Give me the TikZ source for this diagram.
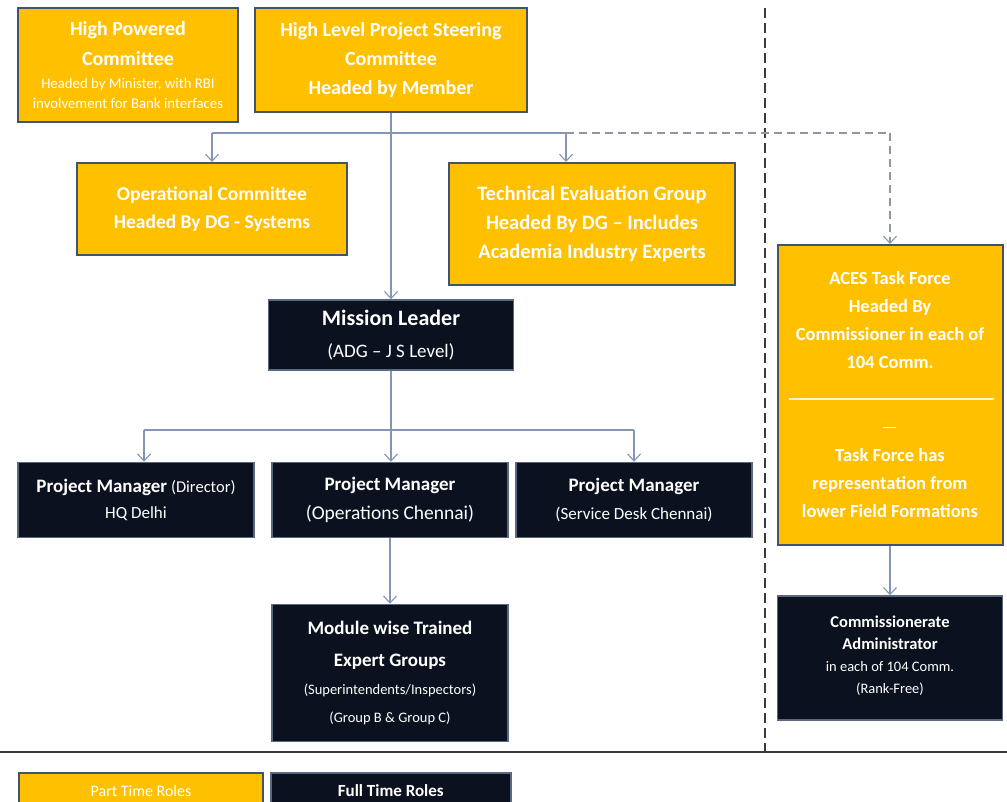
\documentclass[tikz,border=0pt]{standalone}
\usepackage{fontspec}
\setmainfont{Carlito}
\usetikzlibrary{arrows.meta,calc}
\definecolor{gold}{HTML}{FFC000}
\definecolor{boxedge}{HTML}{44536C}
\definecolor{navy}{HTML}{0B111E}
\definecolor{dkedge}{HTML}{5A6882}
\definecolor{link}{HTML}{8496B4}
\definecolor{dashc}{HTML}{8F95A3}
\definecolor{sepc}{HTML}{3A3A3A}
\begin{document}
\begin{tikzpicture}[x=1pt,y=-1pt,
  yel/.style={draw=boxedge,line width=2pt,fill=gold,text=white,align=flush center,inner sep=0pt,
    font=\bfseries\fontsize{19.5}{28.5}\selectfont},
  dk/.style={draw=dkedge,line width=1.5pt,fill=navy,text=white,align=flush center,inner sep=0pt},
  conn/.style={draw=link,line width=1.2pt},
  arr/.style={conn,-{Straight Barb[length=7pt,width=13pt,line width=1.1pt]}},
  dconn/.style={draw=dashc,line width=1.3pt,dash pattern=on 8pt off 5pt},
  darr/.style={dconn,-{Straight Barb[length=7pt,width=13pt,line width=1.1pt]}},
]
\useasboundingbox (0,0) rectangle (1007,802);
\fill[white] (0,0) rectangle (1007,802);

% separators
\draw[sepc,line width=1.5pt,dash pattern=on 10pt off 5pt] (765,8) -- (765,752);
\draw[sepc,line width=2.5pt] (0,752) -- (1007,752);

% yellow boxes
\node[yel,minimum width=220pt,minimum height=114pt,text width=216pt,font=\bfseries\fontsize{20}{30}\selectfont] (hpc) at (128,65)
  {High Powered\\Committee\par\vspace{3pt}
   {\mdseries\fontsize{14.8}{20}\selectfont Headed by Minister, with RBI\\involvement for Bank interfaces\par}};
\node[yel,minimum width=272pt,minimum height=104pt,text width=266pt,font=\bfseries\fontsize{20}{29}\selectfont] (hlpsc) at (391,60)
  {High Level Project Steering\\Committee\\Headed by Member};
\node[yel,minimum width=270pt,minimum height=92pt,text width=264pt] (op) at (212,209)
  {Operational Committee\\Headed By DG - Systems};
\node[yel,minimum width=286pt,minimum height=122pt,text width=280pt,font=\bfseries\fontsize{20.5}{29}\selectfont] (teg) at (592,224)
  {Technical Evaluation Group\\Headed By DG – Includes\\Academia Industry Experts};
\node[yel,minimum width=225pt,minimum height=300pt,text width=219pt,font=\bfseries\fontsize{18.5}{28}\selectfont] (aces) at (890,395)
  {ACES Task Force\\Headed By\\Commissioner in each of\\104 Comm.\par\vspace{65pt}
   Task Force has\\representation from\\lower Field Formations};
\draw[white!85!gold,line width=1.3pt] ($(aces.north west)+(12,155)$) -- ($(aces.north east)+(-10,155)$);
\draw[white!85!gold,line width=1pt] ($(aces.north)+(-7,183)$) -- ($(aces.north)+(6,183)$);

% dark boxes
\node[dk,minimum width=245pt,minimum height=70pt,text width=240pt] (ml) at (391,335)
  {{\bfseries\fontsize{22}{26}\selectfont Mission Leader\par}\vspace{8pt}
   {\fontsize{19}{24}\selectfont (ADG – J S Level)\par}};
\node[dk,minimum width=236pt,minimum height=75pt,text width=232pt] (pm1) at (136,500)
  {\fontsize{17}{26}\selectfont{\bfseries\fontsize{19}{26}\selectfont Project Manager} {\fontsize{16.5}{26}\selectfont (Director)}\\HQ Delhi\par};
\node[dk,minimum width=236pt,minimum height=75pt,text width=232pt] (pm2) at (390,500)
  {{\bfseries\fontsize{19}{27}\selectfont Project Manager\par}
   {\fontsize{19.5}{29}\selectfont (Operations Chennai)\par}};
\node[dk,minimum width=236pt,minimum height=75pt,text width=232pt] (pm3) at (634,500)
  {{\bfseries\fontsize{19}{27}\selectfont Project Manager\par}
   {\fontsize{17}{28}\selectfont (Service Desk Chennai)\par}};
\node[dk,minimum width=236pt,minimum height=137pt,text width=232pt] (mod) at (390,673)
  {{\bfseries\fontsize{19}{32}\selectfont Module wise Trained\\Expert Groups\par}
   {\fontsize{14.5}{28}\selectfont (Superintendents/Inspectors)\\(Group B \& Group C)\par}};
\node[dk,minimum width=225pt,minimum height=124pt,text width=219pt] (cadm) at (890,658)
  {{\bfseries\fontsize{16.5}{22}\selectfont Commissionerate\\Administrator\par}
   {\fontsize{14.5}{22}\selectfont in each of 104 Comm.\\(Rank-Free)\par}\vspace{4pt}};

% legend
\node[yel,minimum width=244pt,minimum height=36pt,text width=240pt,anchor=north west,
  font=\fontsize{16}{18}\selectfont] (part) at (18,772) {Part Time Roles};
\node[dk,minimum width=240pt,minimum height=36pt,text width=236pt,anchor=north west,
  font=\bfseries\fontsize{17}{18}\selectfont] (full) at (270,772) {Full Time Roles};

% connectors
\coordinate (jop) at (212,133);
\coordinate (jteg) at (566,133);
\coordinate (jaces) at (890,133);
\draw[conn] (jop) -- (jteg);
\draw[arr] (hlpsc.south) -- (ml.north);
\draw[arr] (jop) -- (op.north);
\draw[arr] (jteg) -- (jteg |- teg.north);
\draw[dconn] (jteg) -- (jaces);
\draw[darr] (jaces) -- (aces.north);

\coordinate (j2) at (391,430);
\coordinate (jpm1) at (144,430);
\coordinate (jpm3) at (634,430);
\draw[conn] (ml.south) -- (j2);
\draw[conn] (jpm1) -- (jpm3);
\draw[arr] (jpm1) -- (jpm1 |- pm1.north);
\draw[arr] (j2) -- (j2 |- pm2.north);
\draw[arr] (jpm3) -- (pm3.north);
\draw[arr] (pm2.south) -- (mod.north);
\draw[arr] (aces.south) -- (cadm.north);
\end{tikzpicture}
\end{document}
